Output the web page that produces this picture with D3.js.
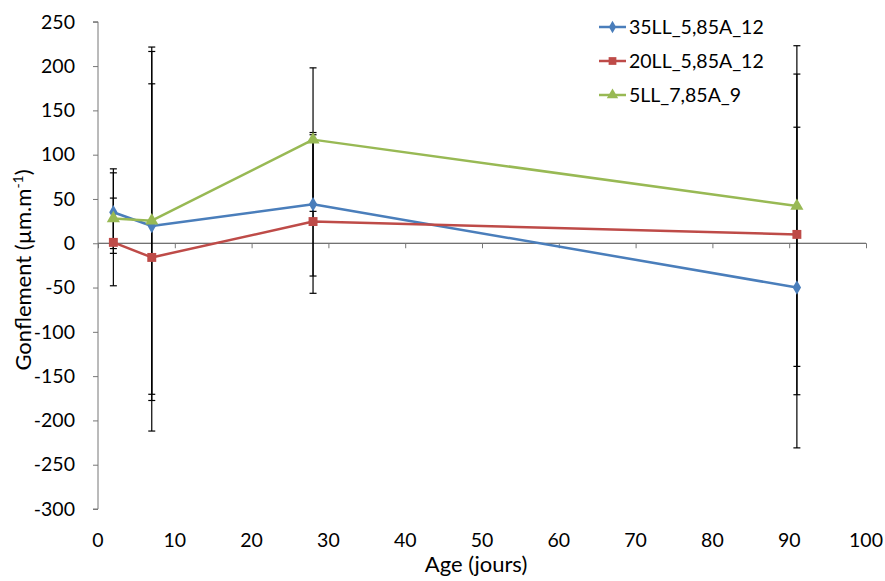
<!DOCTYPE html>
<html><head><meta charset="utf-8">
<script src="https://cdn.jsdelivr.net/npm/d3@7/dist/d3.min.js"></script>
<style>body{margin:0;background:#fff}svg{display:block}text{font-family:Lato,"Open Sans",sans-serif;fill:#000}</style>
</head><body>
<svg id="c" width="885" height="581"></svg>
<script>
const ages = [2, 7, 28, 91];
const seriesNames = ["35LL_5,85A_12", "20LL_5,85A_12", "5LL_7,85A_9"];
const values35 = [35, 19.5, 44, -50];
const values20 = [1, -16, 24.5, 10];
const values5 = [28, 25.5, 117, 42];
const errPlus35 = [49, 197, 81, 181];
const errMinus35 = [41, 197, 81, 181];
const errPlus20 = [50, 196, 98, 181];
const errMinus20 = [49, 196, 81, 181];
const errPlus5 = [51.5, 196, 81, 181];
const errMinus5 = [39.4, 196, 81, 181];
const xTicks = [0,10,20,30,40,50,60,70,80,90,100];
const yTicks = [250,200,150,100,50,0,-50,-100,-150,-200,-250,-300];
const colors = ["#4A7EBB", "#BE4B48", "#98B954"];
const symbols = [d3.symbolDiamond, d3.symbolSquare, d3.symbolTriangle];
const symSizes = [60, 80, 75];

const series = [
  {name: seriesNames[0], vals: values35, ep: errPlus35, em: errMinus35},
  {name: seriesNames[1], vals: values20, ep: errPlus20, em: errMinus20},
  {name: seriesNames[2], vals: values5, ep: errPlus5, em: errMinus5}
];

const svg = d3.select("#c");
const x = d3.scaleLinear().domain([0, 100]).range([98, 866]);
const y = d3.scaleLinear().domain([-300, 250]).range([509, 21.8]);

// y axis
const yAxis = svg.append("g").attr("transform", `translate(${x(0)},0)`)
  .call(d3.axisLeft(y).tickValues(yTicks).tickSize(5).tickPadding(18).tickFormat(d => String(d)));
yAxis.select(".domain").attr("stroke", "#777").attr("d", `M-5,${y(250)}H0V${y(-300)}H-5`);
yAxis.selectAll(".tick line").attr("stroke", "#777");
yAxis.selectAll(".tick text").style("font-size", "19.5px").attr("fill", "#000");

// x axis at y=0, labels at bottom
const xAxis = svg.append("g").attr("transform", `translate(0,${y(0)})`)
  .call(d3.axisBottom(x).tickValues(xTicks).tickSize(5).tickFormat(""));
xAxis.select(".domain").attr("stroke", "#444").attr("d", `M${x(0)},0H${x(100)}`);
xAxis.selectAll(".tick line").attr("stroke", "#777");
svg.append("g").selectAll("text").data(xTicks).join("text")
  .attr("x", d => x(d)).attr("y", 547).attr("text-anchor", "middle")
  .style("font-size", "19.5px").text(d => d);

// axis titles
svg.append("text").attr("x", 476).attr("y", 572).attr("text-anchor", "middle")
  .style("font-size", "22px").text("Age (jours)");
const yl = svg.append("text").attr("transform", `translate(31,270) rotate(-90)`)
  .attr("text-anchor", "middle").style("font-size", "22px");
yl.append("tspan").text("Gonflement (µm.m");
yl.append("tspan").attr("dy", -8).style("font-size", "14px").text("-1");
yl.append("tspan").attr("dy", 8).text(")");

// error bars
series.forEach(s => {
  const g = svg.append("g").attr("stroke", "#000").attr("stroke-width", 1.2);
  ages.forEach((a, i) => {
    const hi = s.vals[i] + s.ep[i], lo = s.vals[i] - s.em[i];
    g.append("line").attr("x1", x(a)).attr("x2", x(a)).attr("y1", y(hi)).attr("y2", y(lo));
    g.append("line").attr("x1", x(a) - 3.5).attr("x2", x(a) + 3.5).attr("y1", y(hi)).attr("y2", y(hi));
    g.append("line").attr("x1", x(a) - 3.5).attr("x2", x(a) + 3.5).attr("y1", y(lo)).attr("y2", y(lo));
  });
});

// lines and markers
const line = d3.line().x((d, i) => x(ages[i])).y(d => y(d));
series.forEach((s, k) => {
  svg.append("path").datum(s.vals).attr("d", line).attr("fill", "none")
    .attr("stroke", colors[k]).attr("stroke-width", 2.5).attr("stroke-linejoin", "round");
  svg.append("g").selectAll("path").data(s.vals).join("path")
    .attr("transform", (d, i) => `translate(${x(ages[i])},${y(d)})`)
    .attr("d", d3.symbol().type(symbols[k]).size(symSizes[k]))
    .attr("fill", colors[k]);
});

// legend
const legY = [27, 61, 95];
series.forEach((s, k) => {
  const g = svg.append("g").attr("transform", `translate(0,${legY[k]})`);
  g.append("line").attr("x1", 599).attr("x2", 626).attr("stroke", colors[k]).attr("stroke-width", 2.5);
  g.append("path").attr("transform", "translate(612.5,0)")
    .attr("d", d3.symbol().type(symbols[k]).size(symSizes[k] * 0.75)).attr("fill", colors[k]);
  g.append("text").attr("x", 629).attr("y", 7).style("font-size", "19.5px").text(s.name);
});
</script>
</body></html>
